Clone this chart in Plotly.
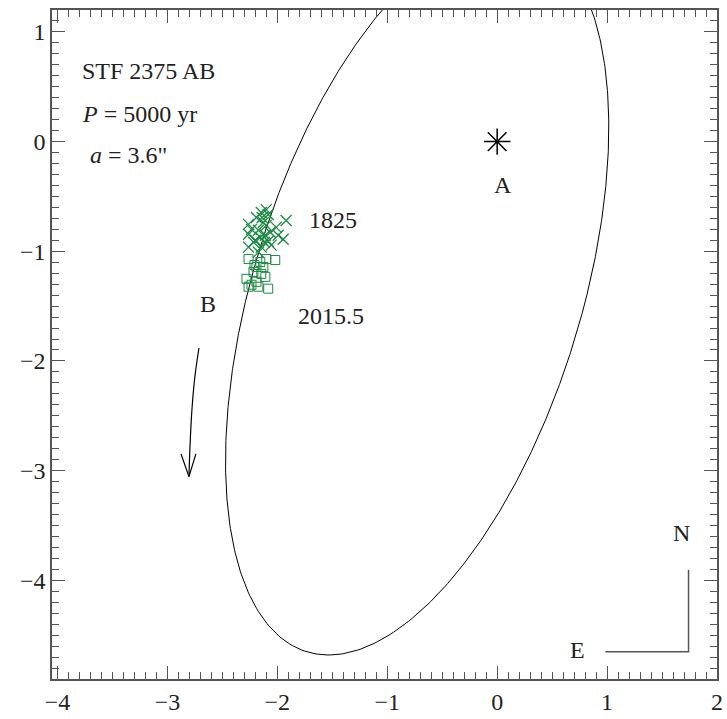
import numpy as np
import plotly.graph_objects as go

# ---- data ----
x_early = [-2.146, -2.101, -2.083, -1.920, -2.262, -2.010, -1.947, -2.262, -2.199, -2.146,
           -2.056, -2.262, -2.172, -2.109, -2.127, -2.190, -2.065, -2.217, -2.155, -2.101,
           -1.992, -2.235, -2.118, -2.172, -2.137, -2.083]
y_early = [-0.647, -0.620, -0.665, -0.719, -0.755, -0.782, -0.890, -0.845, -0.899, -0.962,
           -0.944, -0.962, -0.809, -0.854, -0.737, -0.692, -0.827, -0.917, -0.872, -0.764,
           -0.854, -0.800, -0.917, -1.008, -0.692, -0.908]
x_late = [-2.262, -2.019, -2.190, -2.146, -2.281, -2.235, -2.172, -2.083, -2.109, -2.155,
          -2.217, -2.190, -2.127, -2.262, -2.101, -2.208]
y_late = [-1.071, -1.080, -1.143, -1.206, -1.251, -1.305, -1.323, -1.341, -1.233, -1.098,
          -1.188, -1.278, -1.143, -1.323, -1.071, -1.125]

# points on the apparent orbit, used to fit the ellipse
orbit_x = [-1.135, -1.992, -2.262, -2.407, -2.443, -2.05, -1.57, -1.00,
           0.810, 0.867, 0.957, 1.002]
orbit_y = [1.200, -0.512, -1.504, -2.315, -3.216, -4.48, -4.69, -4.48,
           1.200, 1.003, 0.000, -1.053]
orbit_w = [1, 1, 1, 1, 1, 3, 3, 3, 1, 1, 1, 1]

primary_x = [0.0]
primary_y = [0.0]

arrow_x = [-2.713, -2.749, -2.776, -2.794, -2.804]
arrow_y = [-1.882, -2.135, -2.432, -2.766, -3.055]
arrowhead_x = [-2.876, -2.804, -2.741]
arrowhead_y = [-2.848, -3.055, -2.848]

compass_x = [0.984, 1.741, 1.741]
compass_y = [-4.651, -4.651, -3.903]

x_ticks = [-4, -3, -2, -1, 0, 1, 2]
y_ticks = [-4, -3, -2, -1, 0, 1]

# ---- fit the ellipse ----
ox = np.array(orbit_x)
oy = np.array(orbit_y)
w = np.array(orbit_w, dtype=float)
Dm = np.column_stack([ox**2, ox*oy, oy**2, ox, oy, np.ones_like(ox)]) * w[:, None]
_, _, vt = np.linalg.svd(Dm)
A, B, C, Dc, Ec, Fc = vt[-1]
M = np.array([[A, B/2], [B/2, C]])
bv = np.array([Dc, Ec])
cen = -0.5 * np.linalg.solve(M, bv)
qc = cen @ M @ cen + bv @ cen + Fc
th = np.linspace(0, 2*np.pi, 721)
dirs = np.vstack([np.cos(th), np.sin(th)])
den = np.einsum('ik,ij,jk->k', dirs, M, dirs)
r = np.sqrt(np.abs(-qc / den))
ell_x = cen[0] + r*dirs[0]
ell_y = cen[1] + r*dirs[1]

green = "#1a8a42"
font_family = "Liberation Serif, Times New Roman, Times, serif"
txt_col = "#222222"

fig = go.Figure()
fig.add_trace(go.Scatter(x=ell_x, y=ell_y, mode="lines",
                         line=dict(color="black", width=1), hoverinfo="skip"))
fig.add_trace(go.Scatter(x=x_early, y=y_early, mode="markers",
                         marker=dict(symbol="x-thin-open", size=11, color=green,
                                     line=dict(color=green, width=1.3))))
fig.add_trace(go.Scatter(x=x_late, y=y_late, mode="markers",
                         marker=dict(symbol="square-open", size=9, color=green,
                                     line=dict(color=green, width=1))))
fig.add_trace(go.Scatter(x=primary_x, y=primary_y, mode="markers",
                         marker=dict(symbol="asterisk-open", size=22, color="black",
                                     line=dict(color="black", width=1.5))))
fig.add_trace(go.Scatter(x=arrow_x, y=arrow_y, mode="lines", line=dict(color="black", width=1.2, shape="spline")))
fig.add_trace(go.Scatter(x=arrowhead_x, y=arrowhead_y, mode="lines", line=dict(color="black", width=1.2)))
fig.add_trace(go.Scatter(x=compass_x, y=compass_y, mode="lines", line=dict(color="#555555", width=1.5)))

labels = [
    (-2.633, -1.477, "B", "center"),
    (0.055, -0.395, "A", "center"),
    (-1.496, -0.711, "1825", "center"),
    (-1.515, -1.594, "2015.5", "center"),
    (1.678, -3.570, "N", "center"),
    (0.731, -4.633, "E", "center"),
    (-3.795, 0.642, "STF 2375 AB", "left"),
    (-3.795, 0.254, "<i>P</i> = 5000 yr", "left"),
    (-3.725, -0.124, "<i>a</i> = 3.6\"", "left"),
]
for lx, ly, lt, anc in labels:
    fig.add_annotation(x=lx, y=ly, text=lt, showarrow=False, xanchor=anc, yanchor="middle",
                       font=dict(family=font_family, size=24, color=txt_col))

axis_common = dict(showgrid=False, zeroline=False, showline=True, linecolor="#555555", linewidth=1.5,
                   ticks="inside", ticklen=13, tickwidth=1.2, tickcolor="#555555", mirror="allticks",
                   tickfont=dict(family=font_family, size=24, color=txt_col),
                   minor=dict(ticks="inside", ticklen=7, dtick=0.1, tickwidth=1, tickcolor="#555555"))
fig.update_xaxes(range=[-4.05, 2.0], tickmode="array", tickvals=x_ticks, **axis_common)
fig.update_yaxes(range=[-4.9, 1.2], tickmode="array", tickvals=y_ticks, **axis_common)
fig.update_layout(width=727, height=719, margin=dict(l=52, r=4, t=10, b=32),
                  plot_bgcolor="white", paper_bgcolor="white", showlegend=False)
fig.write_html("out.html")
